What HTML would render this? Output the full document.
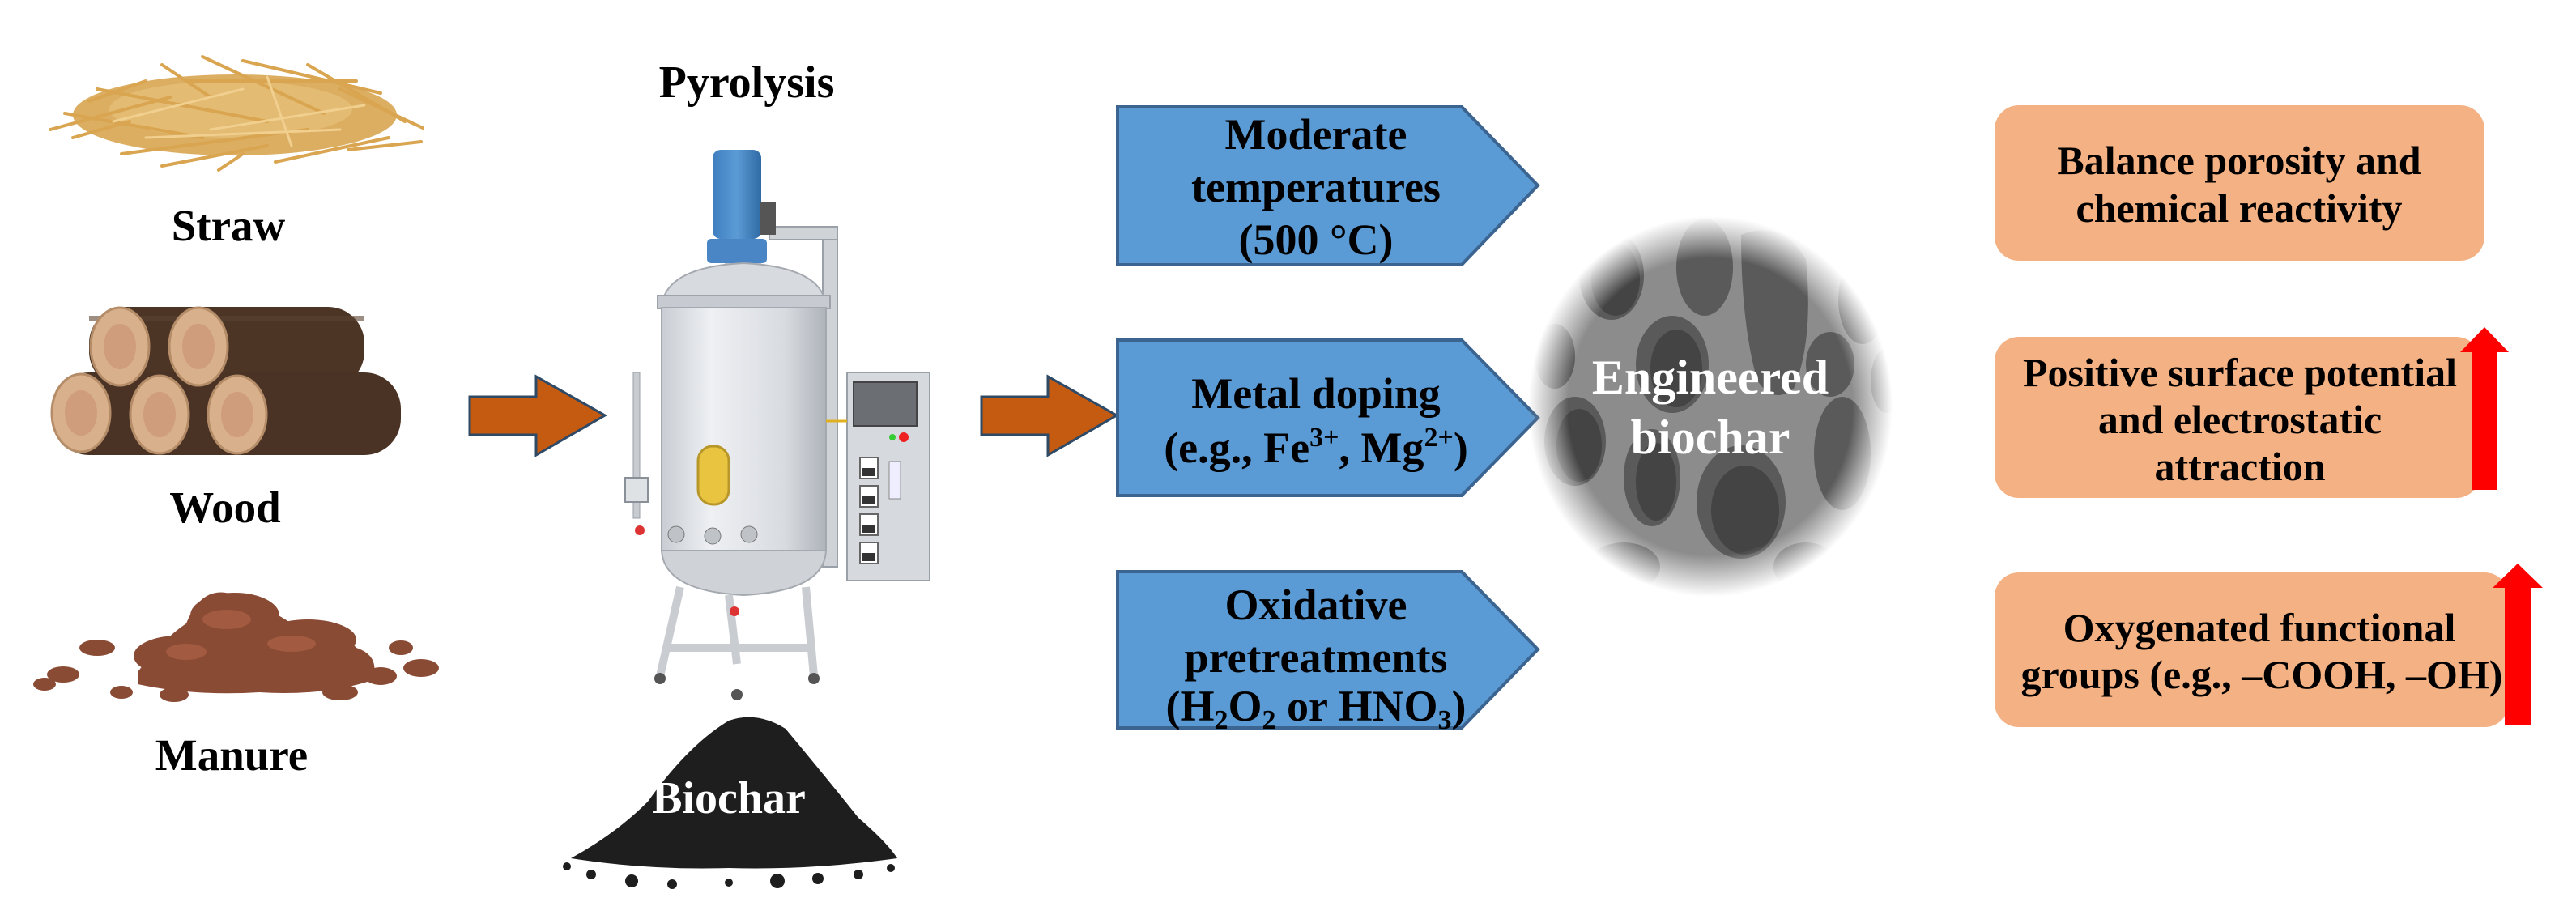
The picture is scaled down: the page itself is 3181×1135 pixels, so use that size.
<!DOCTYPE html>
<html><head><meta charset="utf-8"><style>
html,body{margin:0;padding:0;background:#fff;width:3181px;height:1135px;overflow:hidden}
svg{display:block}
text{font-family:"Liberation Serif","Times New Roman",serif;font-weight:bold}
</style></head><body>
<svg width="3181" height="1135" viewBox="0 0 3181 1135" xmlns="http://www.w3.org/2000/svg">
<defs>
<radialGradient id="fade" cx="50%" cy="50%" r="50%">
<stop offset="0.78" stop-color="#fff"/><stop offset="1" stop-color="#000"/>
</radialGradient>
<mask id="cm"><ellipse cx="2112" cy="502" rx="225" ry="235" fill="url(#fade)"/></mask>
<linearGradient id="vess" x1="0" x2="1"><stop offset="0" stop-color="#c9cdd3"/><stop offset="0.3" stop-color="#eef0f3"/><stop offset="0.75" stop-color="#d8dbe0"/><stop offset="1" stop-color="#aeb3ba"/></linearGradient>
<linearGradient id="mot" x1="0" x2="1"><stop offset="0" stop-color="#3f7fc0"/><stop offset="0.5" stop-color="#5b9bd5"/><stop offset="1" stop-color="#2f6aa5"/></linearGradient>
</defs>

<!-- Straw -->
<g>
<ellipse cx="290" cy="142" rx="200" ry="50" fill="#dcae62"/>
<ellipse cx="285" cy="135" rx="150" ry="35" fill="#e3bb72"/>
<g stroke="#d9a550" stroke-width="4" stroke-linecap="round">
<line x1="62" y1="160" x2="210" y2="120"/><line x1="80" y1="140" x2="250" y2="170"/>
<line x1="120" y1="110" x2="330" y2="150"/><line x1="200" y1="80" x2="260" y2="120"/>
<line x1="250" y1="70" x2="400" y2="140"/><line x1="300" y1="75" x2="470" y2="115"/>
<line x1="380" y1="80" x2="500" y2="150"/><line x1="420" y1="110" x2="522" y2="158"/>
<line x1="150" y1="190" x2="380" y2="160"/><line x1="200" y1="205" x2="330" y2="180"/>
<line x1="340" y1="200" x2="480" y2="170"/><line x1="90" y1="170" x2="160" y2="150"/>
<line x1="430" y1="185" x2="520" y2="175"/><line x1="230" y1="100" x2="440" y2="100"/>
<line x1="110" y1="125" x2="180" y2="100"/><line x1="270" y1="210" x2="300" y2="190"/>
</g>
<g stroke="#f0cf8f" stroke-width="3" stroke-linecap="round">
<line x1="140" y1="150" x2="300" y2="110"/><line x1="260" y1="160" x2="450" y2="130"/>
<line x1="180" y1="170" x2="420" y2="160"/><line x1="330" y1="95" x2="360" y2="180"/>
</g>
</g>
<text x="282" y="297" font-size="55" text-anchor="middle">Straw</text>

<!-- Wood -->
<g>
<rect x="110" y="379" width="340" height="100" rx="45" fill="#4d3526"/>
<rect x="65" y="460" width="430" height="102" rx="45" fill="#4a3324"/>
<rect x="110" y="390" width="340" height="6" fill="#5c4232" opacity="0.6"/>
<ellipse cx="148" cy="428" rx="36" ry="48" fill="#d9b08c" stroke="#b58c68" stroke-width="3"/>
<ellipse cx="148" cy="428" rx="20" ry="28" fill="#cf9c7c"/>
<ellipse cx="245" cy="428" rx="36" ry="48" fill="#d9b08c" stroke="#b58c68" stroke-width="3"/>
<ellipse cx="245" cy="428" rx="20" ry="28" fill="#cf9c7c"/>
<ellipse cx="100" cy="510" rx="36" ry="48" fill="#d9b08c" stroke="#b58c68" stroke-width="3"/>
<ellipse cx="100" cy="510" rx="20" ry="28" fill="#cf9c7c"/>
<ellipse cx="197" cy="512" rx="36" ry="48" fill="#d9b08c" stroke="#b58c68" stroke-width="3"/>
<ellipse cx="197" cy="512" rx="20" ry="28" fill="#cf9c7c"/>
<ellipse cx="293" cy="512" rx="36" ry="48" fill="#d9b08c" stroke="#b58c68" stroke-width="3"/>
<ellipse cx="293" cy="512" rx="20" ry="28" fill="#cf9c7c"/>
</g>
<text x="278" y="645" font-size="55" text-anchor="middle">Wood</text>

<!-- Manure -->
<g fill="#8a4b35">
<path d="M170 830 Q200 790 230 770 Q250 720 290 735 Q330 750 360 770 Q420 775 440 800 Q470 810 460 840 Q400 860 320 855 Q240 860 170 845 Z"/>
<ellipse cx="290" cy="760" rx="55" ry="28"/><ellipse cx="380" cy="790" rx="60" ry="25"/>
<ellipse cx="220" cy="810" rx="55" ry="25"/>
<ellipse cx="120" cy="800" rx="22" ry="10"/><ellipse cx="78" cy="833" rx="20" ry="10"/>
<ellipse cx="55" cy="845" rx="14" ry="8"/><ellipse cx="495" cy="800" rx="15" ry="9"/>
<ellipse cx="520" cy="825" rx="22" ry="11"/><ellipse cx="470" cy="835" rx="20" ry="11"/>
<ellipse cx="420" cy="855" rx="22" ry="10"/><ellipse cx="215" cy="858" rx="18" ry="9"/>
<ellipse cx="150" cy="855" rx="14" ry="8"/>
</g>
<g fill="#a25a40"><ellipse cx="280" cy="765" rx="30" ry="12"/><ellipse cx="360" cy="795" rx="30" ry="10"/><ellipse cx="230" cy="805" rx="25" ry="10"/></g>
<text x="286" y="951" font-size="55" text-anchor="middle">Manure</text>

<!-- Arrow 1 -->
<polygon points="580,490 662,490 662,465 747,513 662,562 662,537 580,537" fill="#c55a11" stroke="#2e4a66" stroke-width="3"/>

<!-- Pyrolysis -->
<text x="922" y="120" font-size="56" text-anchor="middle">Pyrolysis</text>

<!-- Reactor -->
<g>
<rect x="1016" y="280" width="18" height="420" fill="#cfd3d8" stroke="#9aa0a8" stroke-width="2"/>
<rect x="950" y="280" width="84" height="16" fill="#cfd3d8" stroke="#9aa0a8" stroke-width="2"/>
<rect x="880" y="185" width="60" height="110" rx="10" fill="url(#mot)"/>
<rect x="873" y="295" width="74" height="30" rx="5" fill="#4a86c5"/>
<rect x="938" y="250" width="20" height="40" fill="#555"/>
<rect x="895" y="325" width="45" height="20" fill="#c3c7cc"/>
<path d="M817 380 Q820 330 918 325 Q1018 330 1020 380 Z" fill="#d7dade" stroke="#a4a9b0" stroke-width="2"/>
<rect x="812" y="365" width="213" height="16" fill="#c7cbd1" stroke="#9ea3aa" stroke-width="2"/>
<rect x="817" y="380" width="203" height="300" fill="url(#vess)" stroke="#a4a9b0" stroke-width="2"/>
<path d="M817 680 Q820 730 918 735 Q1018 730 1020 680 Z" fill="#cfd2d7" stroke="#a4a9b0" stroke-width="2"/>
<rect x="862" y="551" width="38" height="72" rx="18" fill="#e8c440" stroke="#b8972a" stroke-width="3"/>
<rect x="782" y="460" width="8" height="180" fill="#c8ccd1" stroke="#9aa0a8"/>
<rect x="772" y="590" width="28" height="30" fill="#dfe2e5" stroke="#8a9098" stroke-width="2"/>
<circle cx="835" cy="660" r="10" fill="#bfc3c8" stroke="#777"/><circle cx="880" cy="662" r="10" fill="#bfc3c8" stroke="#777"/><circle cx="925" cy="660" r="10" fill="#bfc3c8" stroke="#777"/>
<g stroke="#c9cdd2" stroke-width="10"><line x1="840" y1="725" x2="815" y2="835"/><line x1="995" y1="725" x2="1005" y2="835"/><line x1="900" y1="735" x2="910" y2="820"/><line x1="820" y1="800" x2="1000" y2="800"/></g>
<circle cx="815" cy="838" r="7" fill="#555"/><circle cx="1005" cy="838" r="7" fill="#555"/><circle cx="910" cy="858" r="7" fill="#555"/>
<circle cx="907" cy="755" r="6" fill="#d33"/><circle cx="790" cy="655" r="6" fill="#d33"/>
<rect x="1046" y="460" width="102" height="257" fill="#d6d9dd" stroke="#9aa0a8" stroke-width="2"/>
<rect x="1054" y="472" width="78" height="54" fill="#6b6e72" stroke="#444" stroke-width="2"/>
<circle cx="1102" cy="540" r="4" fill="#3c3"/><circle cx="1116" cy="540" r="6" fill="#e22"/>
<g fill="#fff" stroke="#666" stroke-width="2"><rect x="1062" y="565" width="22" height="26"/><rect x="1062" y="600" width="22" height="26"/><rect x="1062" y="635" width="22" height="26"/><rect x="1062" y="670" width="22" height="26"/></g>
<g fill="#333"><rect x="1065" y="578" width="16" height="10"/><rect x="1065" y="613" width="16" height="10"/><rect x="1065" y="648" width="16" height="10"/><rect x="1065" y="683" width="16" height="10"/></g>
<rect x="1098" y="570" width="14" height="46" fill="#eef" stroke="#888"/>
<line x1="1020" y1="520" x2="1046" y2="520" stroke="#e0b020" stroke-width="3"/>
</g>

<!-- Biochar pile -->
<g fill="#1e1e1e">
<path d="M705 1060 Q760 1030 800 990 Q850 920 900 890 Q935 878 970 900 Q1020 960 1060 1010 Q1095 1040 1108 1060 Q1000 1075 900 1072 Q800 1075 705 1060 Z"/>
<circle cx="700" cy="1070" r="5"/><circle cx="730" cy="1080" r="6"/><circle cx="780" cy="1088" r="8"/><circle cx="830" cy="1092" r="6"/>
<circle cx="960" cy="1088" r="9"/><circle cx="1010" cy="1085" r="7"/><circle cx="1060" cy="1080" r="6"/><circle cx="1100" cy="1072" r="5"/><circle cx="900" cy="1090" r="5"/>
</g>
<text x="900" y="1004" font-size="56" text-anchor="middle" fill="#fff">Biochar</text>

<!-- Arrow 2 -->
<polygon points="1212,490 1294,490 1294,465 1379,513 1294,562 1294,537 1212,537" fill="#c55a11" stroke="#2e4a66" stroke-width="3"/>

<!-- Blue boxes -->
<g fill="#5b9bd5" stroke="#3b6490" stroke-width="4">
<polygon points="1380,132 1805,132 1899,229 1805,327 1380,327"/>
<polygon points="1380,420 1805,420 1899,516 1805,612 1380,612"/>
<polygon points="1380,706 1805,706 1899,802 1805,899 1380,899"/>
</g>
<g font-size="54" text-anchor="middle">
<text x="1625" y="184">Moderate</text>
<text x="1625" y="249">temperatures</text>
<text x="1625" y="314">(500 °C)</text>
<text x="1625" y="504">Metal doping</text>
<text x="1625" y="571">(e.g., Fe<tspan font-size="34" dy="-20">3+</tspan><tspan dy="20">, Mg</tspan><tspan font-size="34" dy="-20">2+</tspan><tspan dy="20">)</tspan></text>
<text x="1625" y="765">Oxidative</text>
<text x="1625" y="830">pretreatments</text>
<text x="1625" y="890">(H<tspan font-size="34" dy="10">2</tspan><tspan dy="-10">O</tspan><tspan font-size="34" dy="10">2</tspan><tspan dy="-10"> or HNO</tspan><tspan font-size="34" dy="10">3</tspan><tspan dy="-10">)</tspan></text>
</g>

<!-- Porous circle -->
<g mask="url(#cm)">
<rect x="1880" y="260" width="470" height="490" fill="#8c8c8c"/>
<g fill="#5a5a5a">
<ellipse cx="1990" cy="340" rx="40" ry="55"/><ellipse cx="2105" cy="330" rx="35" ry="60"/>
<path d="M2150 290 Q2200 270 2230 320 Q2240 420 2215 480 Q2190 500 2170 470 Q2150 400 2150 290 Z"/>
<ellipse cx="2300" cy="370" rx="30" ry="55"/><ellipse cx="1920" cy="440" rx="25" ry="40"/>
<ellipse cx="2065" cy="450" rx="45" ry="60"/><ellipse cx="1945" cy="545" rx="38" ry="55"/>
<ellipse cx="2040" cy="590" rx="35" ry="60"/><ellipse cx="2150" cy="620" rx="55" ry="70"/>
<ellipse cx="2275" cy="560" rx="35" ry="70"/><ellipse cx="2260" cy="450" rx="30" ry="40"/>
<ellipse cx="2005" cy="700" rx="45" ry="30"/><ellipse cx="2230" cy="700" rx="40" ry="30"/>
<ellipse cx="2330" cy="470" rx="20" ry="40"/><ellipse cx="1895" cy="640" rx="20" ry="40"/>
</g>
<g fill="#444"><ellipse cx="1995" cy="345" rx="30" ry="45"/><ellipse cx="2070" cy="455" rx="32" ry="48"/><ellipse cx="2155" cy="630" rx="42" ry="55"/><ellipse cx="2045" cy="595" rx="25" ry="48"/><ellipse cx="1950" cy="550" rx="28" ry="45"/></g>
</g>
<text x="2112" y="486" font-size="60" text-anchor="middle" fill="#fff">Engineered</text>
<text x="2112" y="560" font-size="60" text-anchor="middle" fill="#fff">biochar</text>

<!-- Orange boxes -->
<g fill="#f4b183">
<rect x="2463" y="130" width="605" height="192" rx="30"/>
<rect x="2463" y="416" width="600" height="199" rx="30"/>
<rect x="2463" y="707" width="635" height="191" rx="30"/>
</g>
<g font-size="50" text-anchor="middle">
<text x="2765" y="215">Balance porosity and</text>
<text x="2765" y="274">chemical reactivity</text>
<text x="2766" y="477">Positive surface potential</text>
<text x="2766" y="535">and electrostatic</text>
<text x="2766" y="593">attraction</text>
<text x="2790" y="792">Oxygenated functional</text>
<text x="2793" y="850">groups (e.g., –COOH, –OH)</text>
</g>

<!-- Red arrows -->
<polygon points="3053,605 3084,605 3084,435 3098,435 3068,404 3038,435 3053,435" fill="#ff0000"/>
<polygon points="3093,896 3125,896 3125,726 3140,726 3109,696 3078,726 3093,726" fill="#ff0000"/>
</svg>
</body></html>
